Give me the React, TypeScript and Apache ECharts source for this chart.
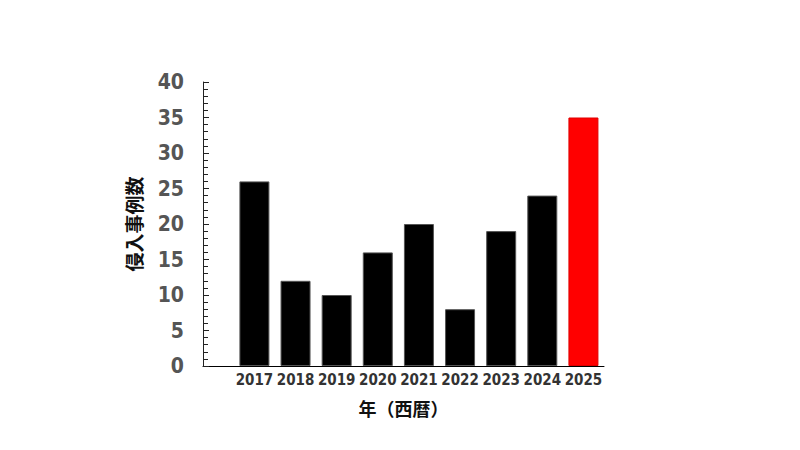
import React, { useEffect, useRef } from 'react';
import * as echarts from 'echarts';

const years = [2017, 2018, 2019, 2020, 2021, 2022, 2023, 2024, 2025];
const incidents = [26, 12, 10, 16, 20, 8, 19, 24, 35];
const highlightYear = 2025;

const numFont = "'Liberation Sans Narrow', 'DejaVu Sans Condensed', 'Roboto Condensed', 'DejaVu Sans', sans-serif";

const App: React.FC = () => {
    const chartRef = useRef<HTMLDivElement>(null);

    useEffect(() => {
        if (!chartRef.current) return;
        const chart = echarts.init(chartRef.current, undefined, { renderer: 'svg' });

        chart.setOption({
            animation: false,
            grid: { left: 195, right: 188, top: 74, bottom: 76 },
            xAxis: {
                type: 'value',
                min: 2015.75,
                max: 2025.5,
                interval: 0.25,
                name: '年（西暦）',
                nameLocation: 'middle',
                nameGap: 33,
                nameTextStyle: {
                    fontFamily: 'Noto Sans CJK JP',
                    fontWeight: 'bold',
                    fontSize: 18,
                    color: '#111'
                },
                axisLine: { lineStyle: { color: '#000', width: 1 } },
                axisTick: { show: false },
                splitLine: { show: false },
                axisLabel: {
                    color: '#333',
                    fontFamily: numFont,
                    fontWeight: 'bold',
                    fontSize: 15,
                    margin: 6,
                    showMinLabel: true,
                    showMaxLabel: true,
                    formatter: (v: number) =>
                        Number.isInteger(v) && years.includes(v) ? String(v) : ''
                }
            },
            yAxis: {
                type: 'value',
                min: 0,
                max: 40,
                interval: 5,
                name: '侵入事例数',
                nameLocation: 'middle',
                nameGap: 60,
                nameRotate: 90,
                nameTextStyle: {
                    fontFamily: 'Noto Sans CJK JP',
                    fontWeight: 'bold',
                    fontSize: 19,
                    color: '#111'
                },
                axisLine: { show: true, lineStyle: { color: '#222', width: 1 } },
                axisTick: { show: true, inside: true, length: 6, lineStyle: { color: '#222' } },
                minorTick: { show: true, splitNumber: 5, length: 5, lineStyle: { color: '#222' } },
                splitLine: { show: false },
                minorSplitLine: { show: false },
                axisLabel: {
                    color: '#555',
                    fontFamily: numFont,
                    fontWeight: 'bold',
                    fontSize: 21,
                    margin: 19
                }
            },
            series: [
                {
                    type: 'bar',
                    barWidth: 30,
                    data: years.map((y, i) => ({
                        value: [y, incidents[i]],
                        itemStyle:
                            y === highlightYear
                                ? { color: '#ff0000', borderColor: '#e00000', borderWidth: 1 }
                                : { color: '#000', borderColor: '#555', borderWidth: 1 }
                    }))
                }
            ]
        });

        return () => {
            chart.dispose();
        };
    }, []);

    return <div ref={chartRef} style={{ width: 784, height: 434 }} />;
};

export default App;
